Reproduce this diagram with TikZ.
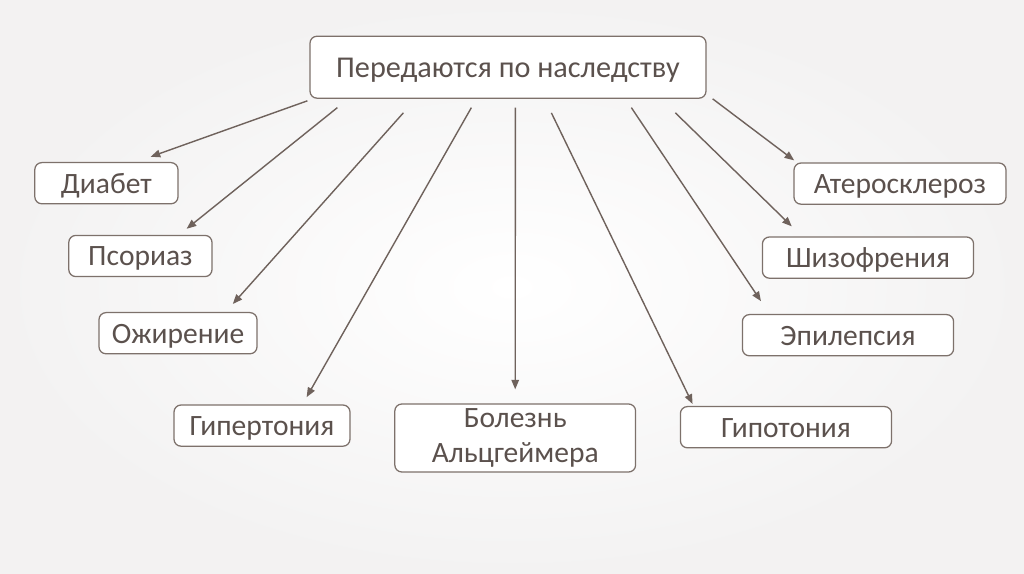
\documentclass[tikz,border=0pt]{standalone}
\usepackage{fontspec}
\setmainfont{Carlito}
\usepackage{tikz}
\usetikzlibrary{arrows.meta}
\definecolor{dzline}{HTML}{6F625C}
\definecolor{dzedge}{HTML}{7D716B}
\definecolor{dztext}{HTML}{5B514D}
\definecolor{dzback}{HTML}{F3F2F2}

\begin{document}
\begin{tikzpicture}[
  ill/.style={draw=dzedge,line width=0.9pt,fill=white,rounded corners=5pt,align=center,
    inner sep=3pt,text=dztext,font=\fontsize{21}{25}\selectfont,minimum height=1.03cm},
  one/.style={ill,text height=17pt,text depth=3pt},
  head/.style={one,minimum height=1.55cm,minimum width=9.9cm,font=\fontsize{21.5}{26}\selectfont},
  flow/.style={-{Triangle[length=2.4mm,width=1.9mm]},line width=1pt,dzline}]
  \shade[inner color=white,outer color=dzback] (0,0) rectangle (25.6,-14.35);
  \useasboundingbox (0,0) rectangle (25.6,-14.35);
  \node[head] (top) at (12.7,-1.68) {Передаются по наследству};
  \node[one,minimum width=3.58cm] (diab) at (2.66,-4.58)  {Диабет};
  \node[one,minimum width=3.58cm] (psor) at (3.51,-6.40)  {Псориаз};
  \node[one,minimum width=3.95cm] (ozhi) at (4.45,-8.33)  {Ожирение};
  \node[one,minimum width=4.40cm] (hyper) at (6.55,-10.64) {Гипертония};
  \node[ill,minimum width=6.02cm,minimum height=1.70cm] (alz) at (12.88,-10.95) {Болезнь\\Альцгеймера};
  \node[one,minimum width=5.28cm] (hypo) at (19.65,-10.68) {Гипотония};
  \node[one,minimum width=5.28cm] (epil) at (21.20,-8.38)  {Эпилепсия};
  \node[one,minimum width=5.28cm] (schi) at (21.70,-6.44)  {Шизофрения};
  \node[one,minimum width=5.30cm] (athe) at (22.50,-4.59)  {Атеросклероз};
  \coordinate (s1) at ([shift={(-0.05,-0.05)}]top.south west);
  \coordinate (s2) at ([shift={(0.70,-0.22)}]top.south west);
  \coordinate (s3) at ([shift={(2.35,-0.35)}]top.south west);
  \coordinate (s4) at ([shift={(4.05,-0.22)}]top.south west);
  \coordinate (s5) at ([shift={(5.15,-0.22)}]top.south west);
  \coordinate (s6) at ([shift={(6.05,-0.35)}]top.south west);
  \coordinate (s7) at ([shift={(8.05,-0.22)}]top.south west);
  \coordinate (s8) at ([shift={(9.15,-0.35)}]top.south west);
  \coordinate (s9) at ([shift={(0.15,0.00)}]top.south east);
  \draw[flow] (s1) -- ([shift={(-0.70,0.13)}]diab.north east);
  \draw[flow] (s2) -- ([shift={(-0.65,0.15)}]psor.north east);
  \draw[flow] (s3) -- ([shift={(-0.62,0.20)}]ozhi.north east);
  \draw[flow] (s4) -- ([shift={(-1.10,0.18)}]hyper.north east);
  \draw[flow] (s5) -- ([shift={(0.00,0.35)}]alz.north);
  \draw[flow] (s6) -- ([shift={(0.32,0.05)}]hypo.north west);
  \draw[flow] (s7) -- ([shift={(0.48,0.32)}]epil.north west);
  \draw[flow] (s8) -- ([shift={(0.75,0.25)}]schi.north west);
  \draw[flow] (s9) -- ([shift={(0.02,0.05)}]athe.north west);
\end{tikzpicture}
\end{document}
